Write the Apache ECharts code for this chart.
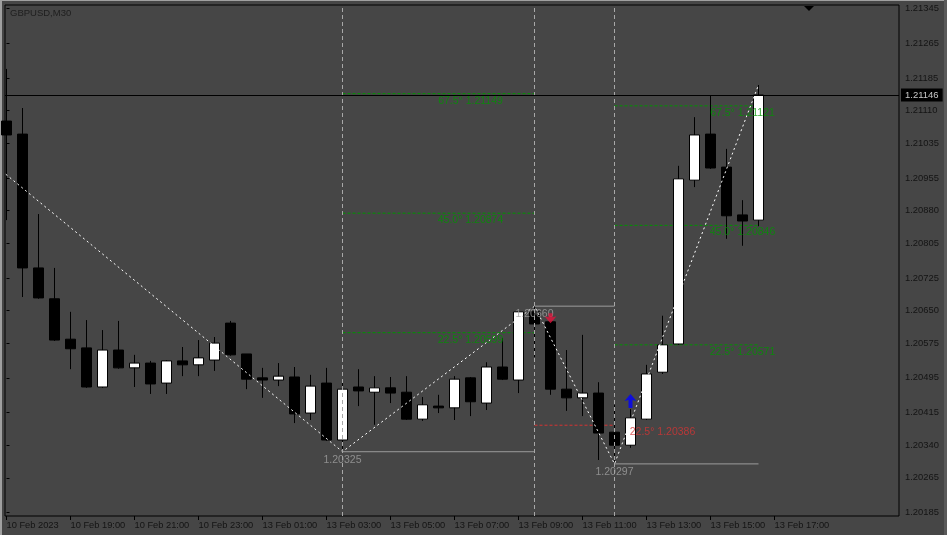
<!DOCTYPE html>
<html>
<head>
<meta charset="utf-8">
<script src="https://cdn.jsdelivr.net/npm/echarts@6/dist/echarts.min.js"></script>
<style>
html, body { margin: 0; padding: 0; background: #464646; }
#chart { width: 947px; height: 535px; }
</style>
</head>
<body>
<div id="chart"></div>
<script>
// GBPUSD M30, index 0 = 10 Feb 2023 17:00, ein Balken = 30 Minuten
var timeTicks = [0, 4, 8, 12, 16, 20, 24, 28, 32, 36, 40, 44, 48];
var timeLabels = ['10 Feb 2023', '10 Feb 19:00', '10 Feb 21:00', '10 Feb 23:00', '13 Feb 01:00',
	'13 Feb 03:00', '13 Feb 05:00', '13 Feb 07:00', '13 Feb 09:00', '13 Feb 11:00',
	'13 Feb 13:00', '13 Feb 15:00', '13 Feb 17:00'];
var priceTicks = [1.21345, 1.21265, 1.21185, 1.21110, 1.21035, 1.20955, 1.20880, 1.20805,
	1.20725, 1.20650, 1.20575, 1.20495, 1.20415, 1.20340, 1.20265, 1.20185];

// [open, close, low, high]
var candles = [
	[1.21086, 1.21054, 1.20858, 1.21206],
	[1.21056, 1.20748, 1.20681, 1.21116],
	[1.20748, 1.20679, 1.20677, 1.20872],
	[1.20677, 1.20582, 1.20580, 1.20748],
	[1.20584, 1.20562, 1.20515, 1.20647],
	[1.20564, 1.20474, 1.20472, 1.20628],
	[1.20474, 1.20559, 1.20472, 1.20605],
	[1.20559, 1.20518, 1.20516, 1.20626],
	[1.20518, 1.20529, 1.20474, 1.20548],
	[1.20529, 1.20481, 1.20458, 1.20534],
	[1.20483, 1.20534, 1.20458, 1.20536],
	[1.20534, 1.20525, 1.20499, 1.20566],
	[1.20525, 1.20541, 1.20499, 1.20582],
	[1.20536, 1.20575, 1.20511, 1.20589],
	[1.20621, 1.20548, 1.20546, 1.20626],
	[1.20550, 1.20492, 1.20469, 1.20550],
	[1.20495, 1.20490, 1.20449, 1.20518],
	[1.20490, 1.20499, 1.20476, 1.20529],
	[1.20497, 1.20412, 1.20391, 1.20520],
	[1.20414, 1.20476, 1.20398, 1.20502],
	[1.20483, 1.20352, 1.20350, 1.20518],
	[1.20352, 1.20469, 1.20325, 1.20488],
	[1.20474, 1.20465, 1.20430, 1.20515],
	[1.20462, 1.20472, 1.20387, 1.20499],
	[1.20472, 1.20460, 1.20437, 1.20497],
	[1.20462, 1.20400, 1.20398, 1.20499],
	[1.20400, 1.20433, 1.20396, 1.20451],
	[1.20430, 1.20426, 1.20414, 1.20456],
	[1.20426, 1.20492, 1.20398, 1.20499],
	[1.20495, 1.20440, 1.20407, 1.20497],
	[1.20437, 1.20520, 1.20421, 1.20531],
	[1.20520, 1.20492, 1.20490, 1.20587],
	[1.20490, 1.20647, 1.20460, 1.20650],
	[1.20647, 1.20619, 1.20543, 1.20660],
	[1.20624, 1.20469, 1.20456, 1.20626],
	[1.20469, 1.20449, 1.20419, 1.20559],
	[1.20449, 1.20460, 1.20407, 1.20594],
	[1.20460, 1.20368, 1.20306, 1.20485],
	[1.20370, 1.20340, 1.20297, 1.20433],
	[1.20340, 1.20403, 1.20334, 1.20423],
	[1.20400, 1.20504, 1.20398, 1.20525],
	[1.20508, 1.20571, 1.20504, 1.20638],
	[1.20573, 1.20953, 1.20571, 1.20983],
	[1.20950, 1.21054, 1.20934, 1.21095],
	[1.21056, 1.20978, 1.20976, 1.21145],
	[1.20980, 1.20868, 1.20815, 1.21022],
	[1.20870, 1.20856, 1.20799, 1.20904],
	[1.20858, 1.21146, 1.20844, 1.21169]
];

var bidPrice = 1.21146;
// ZigZag-Punkte [index, preis]; der erste liegt links ausserhalb
var zigzag = [[-8, 1.21205], [21, 1.20325], [33, 1.20660], [38, 1.20297], [47, 1.21169]];
var swingBars = [21, 33, 38];
// [von, bis, preis]
var swingLines = [[21, 33, 1.20325], [33, 38, 1.20660], [38, 47, 1.20297]];
// [von, bis, preis, winkel]
var greenLevels = [
	[21, 33, 1.21149, '67.5°'], [21, 33, 1.20874, '45.0°'], [21, 33, 1.20599, '22.5°'],
	[38, 47, 1.21121, '67.5°'], [38, 47, 1.20846, '45.0°'], [38, 47, 1.20571, '22.5°']
];
var redLevels = [[33, 38, 1.20386, '22.5°']];
var sellArrows = [[34, 1.20632]];
var buyArrows = [[39, 1.20442]];

var font = 'Liberation Sans, Arial, sans-serif';
var labelShift = 8;	// Text sitzt 8 Balken rechts vom Startpunkt
var green = '#009400';
var red = '#d43434';

function segmentSeries(list, color, dash) {
	return list.map(function (l) {
		return {
			type: 'line', silent: true, symbol: 'none', z: 1,
			data: [[l[0], l[2]], [l[1], l[2]]],
			lineStyle: {color: color, width: 1, type: dash}
		};
	});
}

function textSeries(items, color, dy) {
	return {
		type: 'scatter', silent: true, symbolSize: 1, z: 6,
		itemStyle: {color: 'transparent'},
		data: items,
		label: {
			show: true, position: 'inside', offset: [0, dy],
			color: color, fontSize: 10.5, fontFamily: font,
			formatter: function (p) { return p.data[2]; }
		}
	};
}

var chart = echarts.init(document.getElementById('chart'), null, {renderer: 'canvas'});

var series = [];

// senkrechte gestrichelte Linien
series.push({
	type: 'line', data: [], z: 1,
	markLine: {
		silent: true, symbol: 'none', animation: false,
		label: {show: false},
		lineStyle: {color: '#a8a8a8', width: 1, type: [4, 3]},
		data: swingBars.map(function (b) { return {xAxis: b}; })
	}
});

// Bid-Linie mit Preisschild rechts (precision sonst 2 Stellen!)
series.push({
	type: 'line', data: [], z: 3,
	markLine: {
		silent: true, symbol: 'none', animation: false, precision: 5,
		lineStyle: {color: '#000000', width: 1, type: 'solid'},
		label: {
			show: true, position: 'end', distance: 2,
			formatter: bidPrice.toFixed(5),
			backgroundColor: '#000000', color: '#c8c8c8',
			fontSize: 9.5, fontFamily: font, padding: [2, 4, 1, 4]
		},
		data: [{yAxis: bidPrice}]
	}
});

series = series.concat(segmentSeries(swingLines, '#9c9c9c', 'solid'));
series = series.concat(segmentSeries(greenLevels, green, [3, 2]));
series = series.concat(segmentSeries(redLevels, red, [3, 2]));

series.push({
	type: 'candlestick', z: 2,
	barWidth: 10,
	encode: {x: 0, y: [1, 2, 3, 4]},
	data: candles.map(function (c, i) { return [i, c[0], c[1], c[2], c[3]]; }),
	itemStyle: {color: '#ffffff', color0: '#000000', borderColor: '#000000', borderColor0: '#000000', borderWidth: 1}
});

series.push({
	type: 'line', z: 4, silent: true, symbol: 'none',
	data: zigzag,
	lineStyle: {color: '#ffffff', width: 1, type: [2, 3]}
});

series.push(textSeries(swingLines.map(function (s) {
	return [s[0], s[2], s[2].toFixed(5)];
}), '#a0a0a0', 8));
series.push(textSeries(greenLevels.map(function (l) {
	return [l[0] + labelShift, l[2], l[3] + ' ' + l[2].toFixed(5)];
}), green, 7));
series.push(textSeries(redLevels.map(function (l) {
	return [l[0] + labelShift, l[2], l[3] + ' ' + l[2].toFixed(5)];
}), red, 7));

series.push({
	type: 'scatter', silent: true, z: 7,
	symbol: 'path://M4,0 L8,0 L8,4 L12,3 L6,10 L0,3 L4,4 Z',
	symbolSize: [12, 10],
	itemStyle: {color: '#e0143c'},
	data: sellArrows
});
series.push({
	type: 'scatter', silent: true, z: 7,
	symbol: 'path://M6,0 L12,7 L8,6 L8,14 L4,14 L4,6 L0,7 Z',
	symbolSize: [12, 14],
	itemStyle: {color: '#0000ff'},
	data: buyArrows
});

chart.setOption({
	animation: false,
	backgroundColor: '#464646',
	title: {
		text: 'GBPUSD,M30', left: 10, top: 8, padding: 0,
		textStyle: {color: '#1e1e1e', fontSize: 9.5, fontWeight: 'normal', fontFamily: font}
	},
	grid: {
		left: 5, right: 48, top: 5, bottom: 19,
		show: true, borderColor: '#000000', borderWidth: 1, backgroundColor: 'transparent'
	},
	xAxis: {
		type: 'value', min: -0.09375, max: 55.78125,
		axisLine: {show: false},
		splitLine: {show: false},
		axisTick: {show: true, customValues: timeTicks, length: 4, lineStyle: {color: '#000000'}},
		axisLabel: {
			customValues: timeTicks, margin: 5, align: 'left',
			color: '#141414', fontSize: 9.3, fontFamily: font,
			formatter: function (v) { return timeLabels[Math.round(v / 4)]; }
		}
	},
	yAxis: {
		type: 'value', position: 'right', scale: true,
		min: 1.201771, max: 1.213531,
		axisLine: {show: false},
		splitLine: {show: false},
		axisTick: {show: true, customValues: priceTicks, length: 3, lineStyle: {color: '#000000'}},
		axisLabel: {
			customValues: priceTicks, margin: 6,
			color: '#141414', fontSize: 9.4, fontFamily: font,
			formatter: function (v) { return v.toFixed(5); }
		}
	},
	graphic: [
		{type: 'rect', shape: {x: 0, y: 0, width: 2, height: 535}, style: {fill: '#a0a0a0'}, silent: true},
		{type: 'rect', shape: {x: 0, y: 0, width: 947, height: 1}, style: {fill: '#a0a0a0'}, silent: true},
		{type: 'rect', shape: {x: 944, y: 0, width: 3, height: 535}, style: {fill: '#5a5a5a'}, silent: true},
		{type: 'polygon', shape: {points: [[804, 6], [814, 6], [809, 11]]}, style: {fill: '#000000'}, silent: true}
	],
	series: series
});
</script>
</body>
</html>
